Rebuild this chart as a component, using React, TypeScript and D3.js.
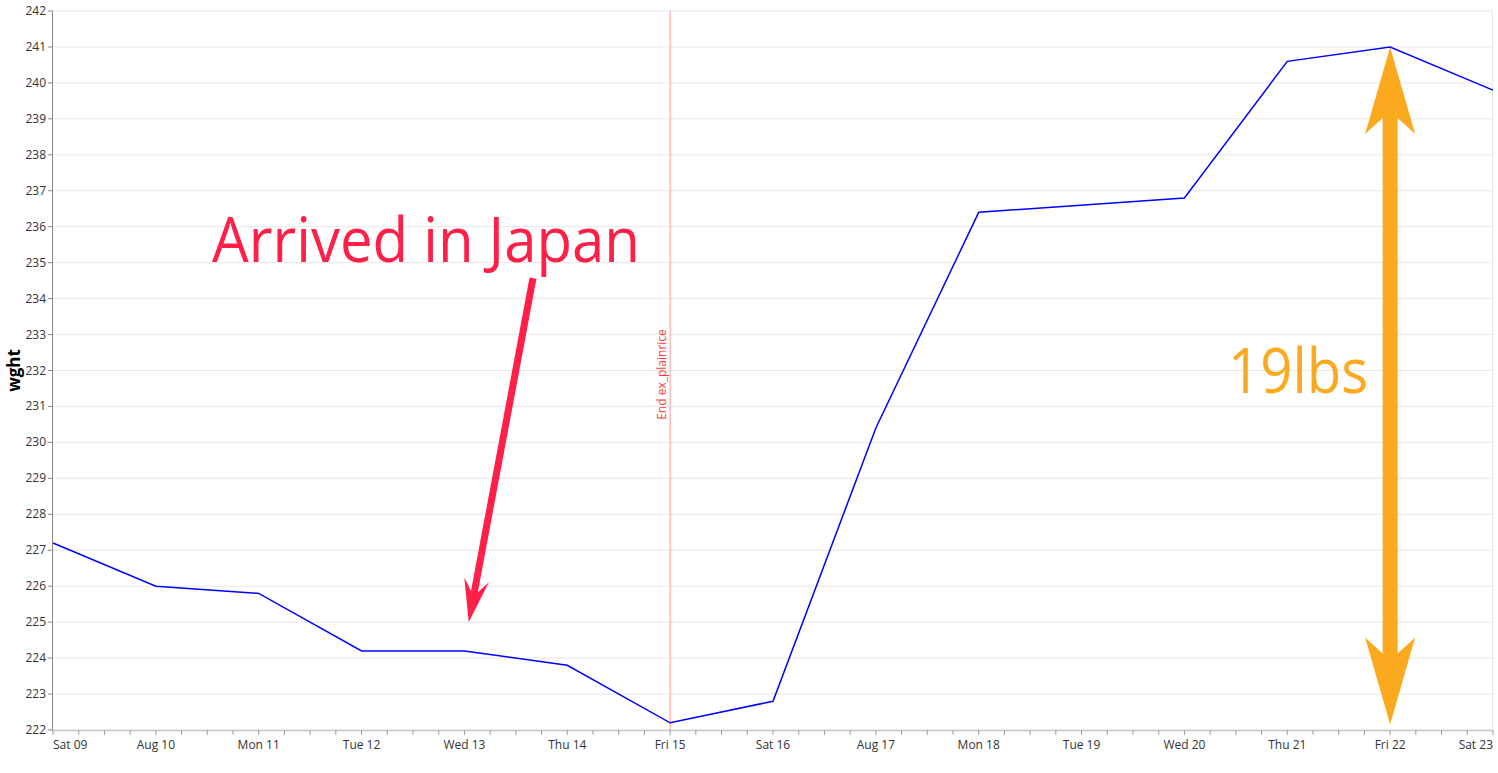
import React from "react";
import * as d3 from "d3";

const dates = ["2025-08-09","2025-08-10","2025-08-11","2025-08-12","2025-08-13","2025-08-14","2025-08-15","2025-08-16","2025-08-17","2025-08-18","2025-08-20","2025-08-21","2025-08-22","2025-08-23"];
const weights = [227.2, 226.0, 225.8, 224.2, 224.2, 223.8, 222.2, 222.8, 230.4, 236.4, 236.8, 240.6, 241.0, 239.8];
const dayTicks = ["2025-08-09","2025-08-10","2025-08-11","2025-08-12","2025-08-13","2025-08-14","2025-08-15","2025-08-16","2025-08-17","2025-08-18","2025-08-19","2025-08-20","2025-08-21","2025-08-22","2025-08-23"];
const tickLabels = ["Sat 09","Aug 10","Mon 11","Tue 12","Wed 13","Thu 14","Fri 15","Sat 16","Aug 17","Mon 18","Tue 19","Wed 20","Thu 21","Fri 22","Sat 23"];
const yTicks = d3.range(222, 243, 1);
const ruleDate = "2025-08-15";
const ruleLabel = "End ex_plainrice";
const japanText = "Arrived in Japan";
const japanArrowFrom = ["2025-08-13T16:00", 234.57];
const japanArrowTo = ["2025-08-13T01:00", 225.0];
const lbsText = "19lbs";
const lbsArrowTop = ["2025-08-22", 241.0];
const lbsArrowBottom = ["2025-08-22", 222.15];

const W = 1498, H = 773;
const M = { left: 53, top: 11, right: 5, bottom: 43 };

const parse = (s: string) => new Date(s.length > 10 ? s : s + "T00:00");

function arrowPoly(tail: [number, number], tip: [number, number], headLen: number, headHalf: number, notchLen: number, shaftHalf: number, double: boolean) {
  const dx = tip[0] - tail[0], dy = tip[1] - tail[1];
  const L = Math.hypot(dx, dy);
  const u = [dx / L, dy / L];
  const n = [-u[1], u[0]];
  const P = (base: [number, number], along: number, side: number): [number, number] => [base[0] + u[0] * along + n[0] * side, base[1] + u[1] * along + n[1] * side];
  const pts: [number, number][] = [];
  pts.push(P(tip, -notchLen, shaftHalf));
  pts.push(P(tip, -headLen, headHalf));
  pts.push(tip);
  pts.push(P(tip, -headLen, -headHalf));
  pts.push(P(tip, -notchLen, -shaftHalf));
  if (double) {
    pts.push(P(tail, notchLen, -shaftHalf));
    pts.push(P(tail, headLen, -headHalf));
    pts.push(tail);
    pts.push(P(tail, headLen, headHalf));
    pts.push(P(tail, notchLen, shaftHalf));
  } else {
    pts.push(P(tail, 0, -shaftHalf));
    pts.push(P(tail, 0, shaftHalf));
  }
  return "M" + pts.map(p => p[0].toFixed(2) + "," + p[1].toFixed(2)).join("L") + "Z";
}

export default function App() {
  const x = d3.scaleTime().domain([parse(dayTicks[0]), parse(dayTicks[dayTicks.length - 1])]).range([M.left, W - M.right]);
  const y = d3.scaleLinear().domain([222, 242]).range([H - M.bottom, M.top]);
  const data = dates.map((d, i) => ({ d: parse(d), v: weights[i] }));
  const line = d3.line<{ d: Date; v: number }>().x(p => x(p.d)).y(p => y(p.v));
  const minorTicks = d3.timeHour.every(6)!.range(x.domain()[0], new Date(+x.domain()[1] + 1));
  const x0 = M.left, x1 = W - M.right, yb = H - M.bottom;
  const font = "'Open Sans', 'Noto Sans', sans-serif";

  const jt: [number, number] = [x(parse(japanArrowTo[0] as string)), y(japanArrowTo[1] as number)];
  const jf: [number, number] = [x(parse(japanArrowFrom[0] as string)), y(japanArrowFrom[1] as number)];
  const lt: [number, number] = [x(parse(lbsArrowTop[0] as string)), y(lbsArrowTop[1] as number)];
  const lb: [number, number] = [x(parse(lbsArrowBottom[0] as string)), y(lbsArrowBottom[1] as number)];
  const rx = x(parse(ruleDate));

  return (
    <svg width={W} height={H} style={{ position: "absolute", left: 0, top: 0, background: "#fff" }} fontFamily={font}>
      {yTicks.map(t => (
        <line key={"g" + t} x1={x0} x2={x1} y1={y(t)} y2={y(t)} stroke="#e8e8e8" strokeWidth={1} />
      ))}
      <line x1={x1 - 0.5} x2={x1 - 0.5} y1={M.top} y2={yb} stroke="#e8e8e8" />
      <line x1={rx} x2={rx} y1={M.top} y2={yb} stroke="#ff8080" strokeOpacity={0.8} strokeWidth={1} />
      <text transform={`translate(${rx - 4},${(M.top + yb) / 2 + 4}) rotate(-90)`} textAnchor="middle" fontSize={12} fill="#ff3b3b">{ruleLabel}</text>
      <path d={line(data) || ""} fill="none" stroke="#0000ff" strokeWidth={1.5} />
      <line x1={x0} x2={x1} y1={yb + 0.5} y2={yb + 0.5} stroke="#c8c8c8" strokeWidth={1.5} />
      {minorTicks.map((t, i) => (
        <line key={"mt" + i} x1={x(t)} x2={x(t)} y1={yb} y2={yb + 5} stroke="#999" />
      ))}
      {dayTicks.map((d, i) => {
        const px = x(parse(d));
        const anchor = i === 0 ? "start" : i === dayTicks.length - 1 ? "end" : "middle";
        return (
          <text key={"xl" + i} x={px} y={yb + 19} textAnchor={anchor} fontSize={12} fill="#333">{tickLabels[i]}</text>
        );
      })}
      <line x1={x0 - 0.5} x2={x0 - 0.5} y1={M.top} y2={yb} stroke="#888" />
      {yTicks.map(t => (
        <g key={"yt" + t}>
          <line x1={x0 - 5} x2={x0} y1={y(t)} y2={y(t)} stroke="#888" />
          <text x={x0 - 7} y={y(t) + 4} textAnchor="end" fontSize={12} fill="#333">{t}</text>
        </g>
      ))}
      <text transform={`translate(20,${(M.top + yb) / 2}) rotate(-90)`} textAnchor="middle" fontSize={17} fontWeight="bold" fill="#000">wght</text>
      <text x={212} y={262} fontSize={62} fontWeight={400} fill="#ff1f48" fontFamily="'Open Sans', sans-serif" textLength={428} lengthAdjust="spacingAndGlyphs">{japanText}</text>
      <path d={arrowPoly(jf, jt, 43, 12.5, 31, 3.5, false)} fill="#ff1f48" />
      <text x={1228} y={393} fontSize={62} fontWeight={400} fill="#fbaa1f" fontFamily="'Open Sans', sans-serif" textLength={140} lengthAdjust="spacingAndGlyphs">{lbsText}</text>
      <path d={arrowPoly(lb, lt, 87, 25, 71, 7.5, true)} fill="#fbaa1f" />
    </svg>
  );
}
